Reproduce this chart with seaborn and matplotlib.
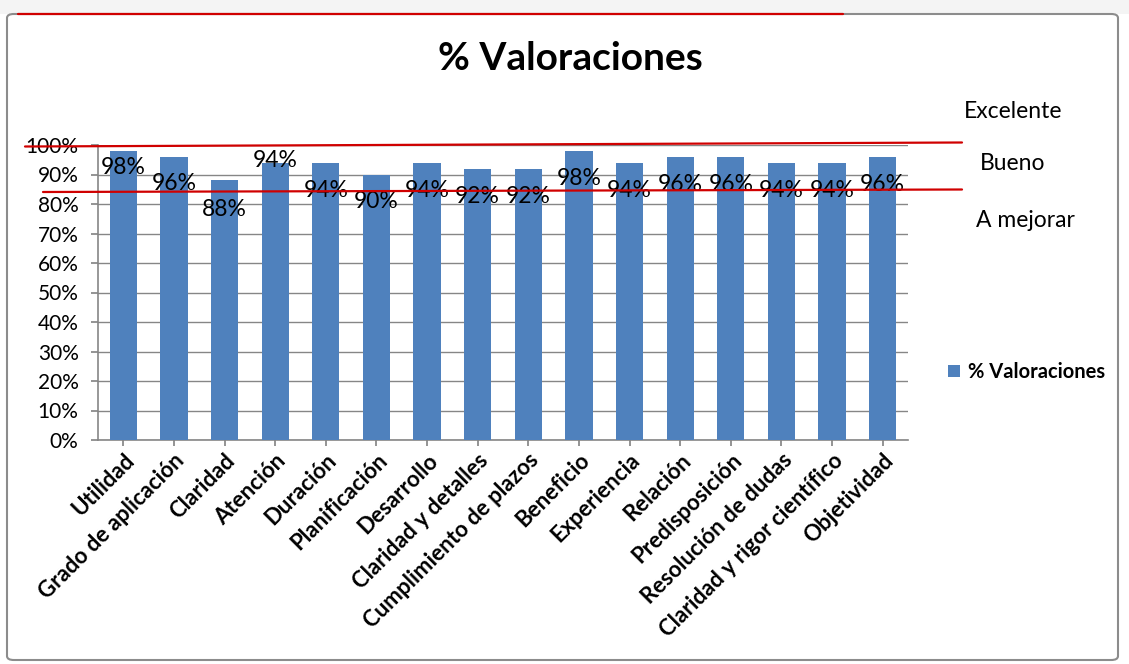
import matplotlib
matplotlib.use("Agg")
import matplotlib.pyplot as plt
import seaborn as sns
import pandas as pd
from matplotlib.patches import FancyBboxPatch, Rectangle
from matplotlib.lines import Line2D
from matplotlib.ticker import FuncFormatter, MultipleLocator

categories = ["Utilidad", "Grado de aplicación", "Claridad", "Atención", "Duración",
              "Planificación", "Desarrollo", "Claridad y detalles", "Cumplimiento de plazos",
              "Beneficio", "Experiencia", "Relación", "Predisposición", "Resolución de dudas",
              "Claridad y rigor científico", "Objetividad"]
values = [98, 96, 88, 94, 94, 90, 94, 92, 92, 98, 94, 96, 96, 94, 94, 96]
series_name = "% Valoraciones"
zone_labels = ["Excelente", "Bueno", "A mejorar"]

# label placement offsets (in % units, relative to bar top) mimicking the original
label_offsets = [-5.5, -9.2, -9.7, 0.6, -9.3, -9.3, -9.3, -9.3, -9.3, -9.2, -9.3, -9.3, -9.3, -9.3, -9.3, -9.3]

sns.set_theme(style="white")
plt.rcParams['font.family'] = ['Lato', 'DejaVu Sans']
plt.rcParams['text.color'] = 'black'
plt.rcParams['xtick.color'] = 'black'
plt.rcParams['ytick.color'] = 'black'

W, H = 1129, 664
fig = plt.figure(figsize=(W / 100, H / 100), dpi=100)
fig.patch.set_facecolor("white")

def fx(px):
    return px / W

def fy(py):
    return 1 - py / H

# outer frame
fig.patches.append(Rectangle((0, fy(14)), 1, 1 - fy(14), transform=fig.transFigure,
                             facecolor="#f4f4f4", edgecolor="none", zorder=-2))
fig.patches.append(FancyBboxPatch((fx(7), fy(660)), fx(1118) - fx(7), fy(14) - fy(660),
                                  boxstyle="round,pad=0,rounding_size=0.006",
                                  transform=fig.transFigure, facecolor="white",
                                  edgecolor="#8c8c8c", linewidth=1.5, zorder=-1))

ax = fig.add_axes([fx(98), fy(440), fx(908) - fx(98), fy(145) - fy(440)])
ax.set_zorder(2)
df = pd.DataFrame({"cat": categories, "val": values})
sns.barplot(data=df, x="cat", y="val", color="#4F81BD", saturation=1, width=0.54, ax=ax,
            zorder=3, label=series_name, linewidth=0)
ax.set_ylim(0, 100)
ax.set_xlim(-0.5, len(categories) - 0.5)
ax.yaxis.set_major_locator(MultipleLocator(10))
ax.yaxis.set_major_formatter(FuncFormatter(lambda v, p: f"{int(v)}%"))
ax.grid(axis="y", color="#868686", linewidth=1, zorder=0)
ax.set_axisbelow(True)
for s in ["top", "right"]:
    ax.spines[s].set_visible(False)
for s in ["left", "bottom"]:
    ax.spines[s].set_color("#868686")
    ax.spines[s].set_linewidth(1.2)
ax.set_xlabel("")
ax.set_ylabel("")
ax.tick_params(axis="y", left=True, length=5, color="#868686", labelsize=15, pad=9)
ax.tick_params(axis="x", bottom=True, length=4, color="#868686", pad=3)
ax.set_xticks(range(len(categories)))
ax.set_xticklabels(categories, rotation=45, ha="right", rotation_mode="anchor",
                   fontsize=16, fontweight="bold")
ax.set_facecolor("none")

for i, (v, off) in enumerate(zip(values, label_offsets)):
    ax.text(i, v + off, f"{v}%", ha="center", va="center", fontsize=16.5, color="black", zorder=5)

# title
fig.text(fx(570), fy(58), series_name, ha="center", va="center", fontsize=28, fontweight="bold")

# red threshold lines
fig.lines.append(Line2D([fx(25), fx(962)], [fy(146.5), fy(142.5)], transform=fig.transFigure,
                        color="#d00000", linewidth=1.6, zorder=10))
fig.lines.append(Line2D([fx(43), fx(962)], [fy(192), fy(189.5)], transform=fig.transFigure,
                        color="#d00000", linewidth=1.6, zorder=10))
fig.lines.append(Line2D([fx(18), fx(843)], [fy(13.5), fy(13.5)], transform=fig.transFigure,
                        color="#d00000", linewidth=1.6, zorder=10))

# zone labels
for (txt, x, y) in zip(zone_labels, [1013, 1013, 1025], [111, 164, 221]):
    fig.text(fx(x), fy(y), txt, ha="center", va="center", fontsize=16.5)

# legend
axw = fx(908) - fx(98)
leg = ax.legend(loc="center left", bbox_to_anchor=((fx(940) - fx(98)) / axw, 0.23),
                frameon=False, prop={"weight": "bold", "size": 14.5}, handlelength=0.6,
                handleheight=0.6, handletextpad=0.4, borderaxespad=0)

fig.savefig("out.png", dpi=100)
